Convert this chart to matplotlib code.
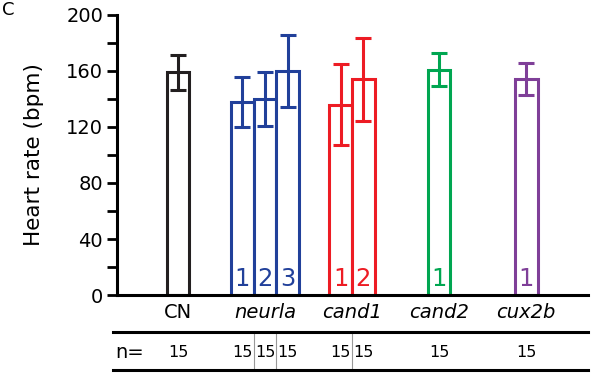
import numpy as np
import matplotlib.pyplot as plt
from matplotlib.transforms import blended_transform_factory
from matplotlib.lines import Line2D

# dados
grupos = ["CN", "neurla", "cand1", "cand2", "cux2b"]
n_barras = [1, 3, 2, 1, 1]
cores_grupo = ["#231f20", "#21409a", "#ed1c24", "#00a651", "#7f3f98"]
medias = [159, 138, 140, 160, 136, 154, 161, 154]
erros = [12.5, 18, 19.5, 26, 29, 29.5, 12, 11.5]
rotulos_barra = ["", "1", "2", "3", "1", "2", "1", "1"]
n_amostra = [15, 15, 15, 15, 15, 15, 15, 15]

largura = 0.26

# posições das barras a partir dos grupos
pos, cores, grupo_idx = [], [], []
for i, k in enumerate(n_barras):
    for j in range(k):
        pos.append(i + (j - (k - 1) / 2) * largura)
        cores.append(cores_grupo[i])
        grupo_idx.append(i)
pos = np.array(pos)

fig = plt.figure(figsize=(5.97, 3.73), dpi=100)
ax = fig.add_axes([0.196, 0.209, 0.789, 0.751])

for x, m, e, c, r in zip(pos, medias, erros, cores, rotulos_barra):
    ax.bar(x, m, width=largura, facecolor="white", edgecolor=c, linewidth=2.2, zorder=2)
    ax.errorbar(x, m, yerr=e, color=c, capsize=5.5, capthick=2.2, elinewidth=2.2, zorder=3)
    if r:
        ax.text(x, 3, r, color=c, ha="center", va="bottom", fontsize=17.5)

ax.set_xlim(-0.70, 4.71)
ax.set_ylim(0, 200)
ax.set_yticks(np.arange(0, 201, 40))
ax.set_yticks(np.arange(20, 200, 40), minor=True)
ax.tick_params(axis="y", which="both", direction="out", length=7, width=2, labelsize=14, pad=3)
ax.set_ylabel("Heart rate (bpm)", fontsize=15.5, labelpad=16)

ax.set_xticks(range(len(grupos)))
ax.set_xticklabels(grupos, fontsize=14)
for i, lab in enumerate(ax.get_xticklabels()):
    if i > 0:
        lab.set_style("italic")
ax.tick_params(axis="x", length=0, pad=6)

for spine in ["top", "right"]:
    ax.spines[spine].set_visible(False)
ax.spines["left"].set_linewidth(2.2)
ax.spines["bottom"].set_linewidth(2.2)

# tabela de n
trans = blended_transform_factory(ax.transData, fig.transFigure)
for yy in [0.110, 0.008]:
    fig.add_artist(Line2D([0.189, 0.985], [yy, yy], color="black", linewidth=2.2))
fig.text(0.193, 0.056, "n=", fontsize=14, ha="left", va="center")
for x, n in zip(pos, n_amostra):
    ax.text(x, 0.056, str(n), transform=trans, fontsize=11.5, ha="center", va="center")
for a, b, ga, gb in zip(pos[:-1], pos[1:], grupo_idx[:-1], grupo_idx[1:]):
    if ga == gb:
        xm = (a + b) / 2
        ax.plot([xm, xm], [0.008, 0.110], transform=trans, color="#999999",
                linewidth=0.8, clip_on=False)

# letra do painel
fig.text(0.004, 0.996, "C", fontsize=13, ha="left", va="top")

fig.savefig("out.png", dpi=100)
